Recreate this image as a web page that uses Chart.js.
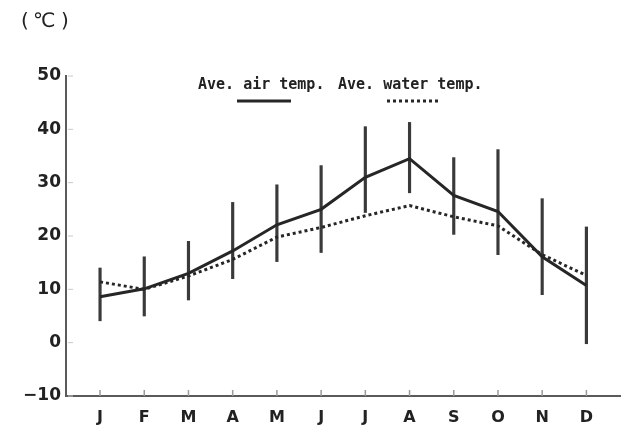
<!DOCTYPE html>
<html>
<head>
<meta charset="utf-8">
<script src="https://cdn.jsdelivr.net/npm/chart.js@4/dist/chart.umd.min.js"></script>
<style>
  html, body { margin: 0; padding: 0; background: #fff; }
  canvas { display: block; }
</style>
</head>
<body>
<canvas id="c" width="629" height="430"></canvas>
<script>
// 月別平均気温・水温（縦線は最低〜最高の範囲）
const months = ["J", "F", "M", "A", "M", "J", "J", "A", "S", "O", "N", "D"];
const airTemp = [8.6, 10.1, 13, 17.2, 22.1, 25, 31, 34.5, 27.6, 24.6, 16.1, 10.7];
const waterTemp = [11.4, 10, 12.5, 15.6, 19.8, 21.6, 23.8, 25.7, 23.6, 21.9, 16.5, 12.6];
const rangeLow = [4.1, 5, 8, 12, 15.2, 16.9, 24.4, 28.1, 20.3, 16.5, 9, -0.2];
const rangeHigh = [14, 16.1, 19, 26.3, 29.6, 33.2, 40.5, 41.3, 34.7, 36.2, 27, 21.7];
const yTicks = [-10, 0, 10, 20, 30, 40, 50];

const INK = "#262626";
const AXIS = "#5a5a5a";

const extras = {
  id: "extras",
  afterDraw(chart) {
    const { ctx, scales: { x, y } } = chart;
    ctx.save();
    // x の内向き目盛り
    ctx.strokeStyle = "#9a9a9a";
    ctx.lineWidth = 1.5;
    months.forEach((m, i) => {
      const px = x.getPixelForValue(i + 1);
      ctx.beginPath();
      ctx.moveTo(px, y.bottom);
      ctx.lineTo(px, y.bottom - 6);
      ctx.stroke();
    });
    // y の薄い目盛り
    ctx.strokeStyle = "#c8c8c8";
    ctx.lineWidth = 1;
    yTicks.forEach(v => {
      const py = y.getPixelForValue(v);
      ctx.beginPath();
      ctx.moveTo(x.left + 2, py);
      ctx.lineTo(x.left + 7, py);
      ctx.stroke();
    });
    // 単位
    ctx.fillStyle = "#222";
    ctx.font = "20px 'DejaVu Sans'";
    ctx.textBaseline = "middle";
    ctx.textAlign = "left";
    ctx.fillText("(", 21, 22);
    ctx.fillText("℃", 33, 22);
    ctx.fillText(")", 61, 22);
    // 凡例
    ctx.font = "bold 15px 'DejaVu Sans Mono'";
    ctx.fillStyle = "#222";
    ctx.fillText("Ave. air temp.", 198, 85);
    ctx.fillText("Ave. water temp.", 338, 85);
    ctx.strokeStyle = INK;
    ctx.lineWidth = 3;
    ctx.beginPath();
    ctx.moveTo(237, 101);
    ctx.lineTo(291, 101);
    ctx.stroke();
    ctx.setLineDash([3, 3]);
    ctx.beginPath();
    ctx.moveTo(387, 101);
    ctx.lineTo(441, 101);
    ctx.stroke();
    ctx.restore();
  },
};

new Chart(document.getElementById("c"), {
  type: "bar",
  data: {
    datasets: [
      {
        type: "line", label: "Ave. air temp.",
        data: airTemp.map((v, i) => ({ x: i + 1, y: v })),
        borderColor: INK, borderWidth: 3, pointRadius: 0, tension: 0, order: 0,
      },
      {
        type: "line", label: "Ave. water temp.",
        data: waterTemp.map((v, i) => ({ x: i + 1, y: v })),
        borderColor: INK, borderWidth: 3, borderDash: [3, 3],
        pointRadius: 0, tension: 0, order: 1,
      },
      {
        type: "bar", label: "range",
        data: rangeLow.map((v, i) => ({ x: i + 1, y: [v, rangeHigh[i]] })),
        backgroundColor: "#3a3a3a", barThickness: 2.5, order: 2,
      },
    ],
  },
  options: {
    responsive: false, animation: false,
    layout: { padding: { top: 76, right: 9, left: 0, bottom: 0 } },
    plugins: { legend: { display: false }, tooltip: { enabled: false } },
    scales: {
      x: {
        type: "linear", min: 0.23, max: 12.76, offset: false,
        afterBuildTicks: s => { s.ticks = months.map((m, i) => ({ value: i + 1 })); },
        afterFit: s => { s.height = 34; },
        grid: { display: false, drawTicks: false },
        border: { color: AXIS, width: 2 },
        ticks: {
          padding: 12, color: "#222",
          font: { family: "DejaVu Sans", weight: "bold", size: 16 },
          callback: v => months[v - 1] || "",
        },
      },
      y: {
        min: -10, max: 50,
        afterBuildTicks: s => { s.ticks = yTicks.map(v => ({ value: v })); },
        afterFit: s => { s.width = 66; },
        grid: { display: false, drawTicks: false },
        border: { color: AXIS, width: 2 },
        ticks: {
          padding: 5, color: "#222",
          font: { family: "DejaVu Sans", weight: "bold", size: 17 },
          callback: v => v < 0 ? "\u2212" + Math.abs(v) : String(v),
        },
      },
    },
  },
  plugins: [extras],
});
</script>
</body>
</html>
